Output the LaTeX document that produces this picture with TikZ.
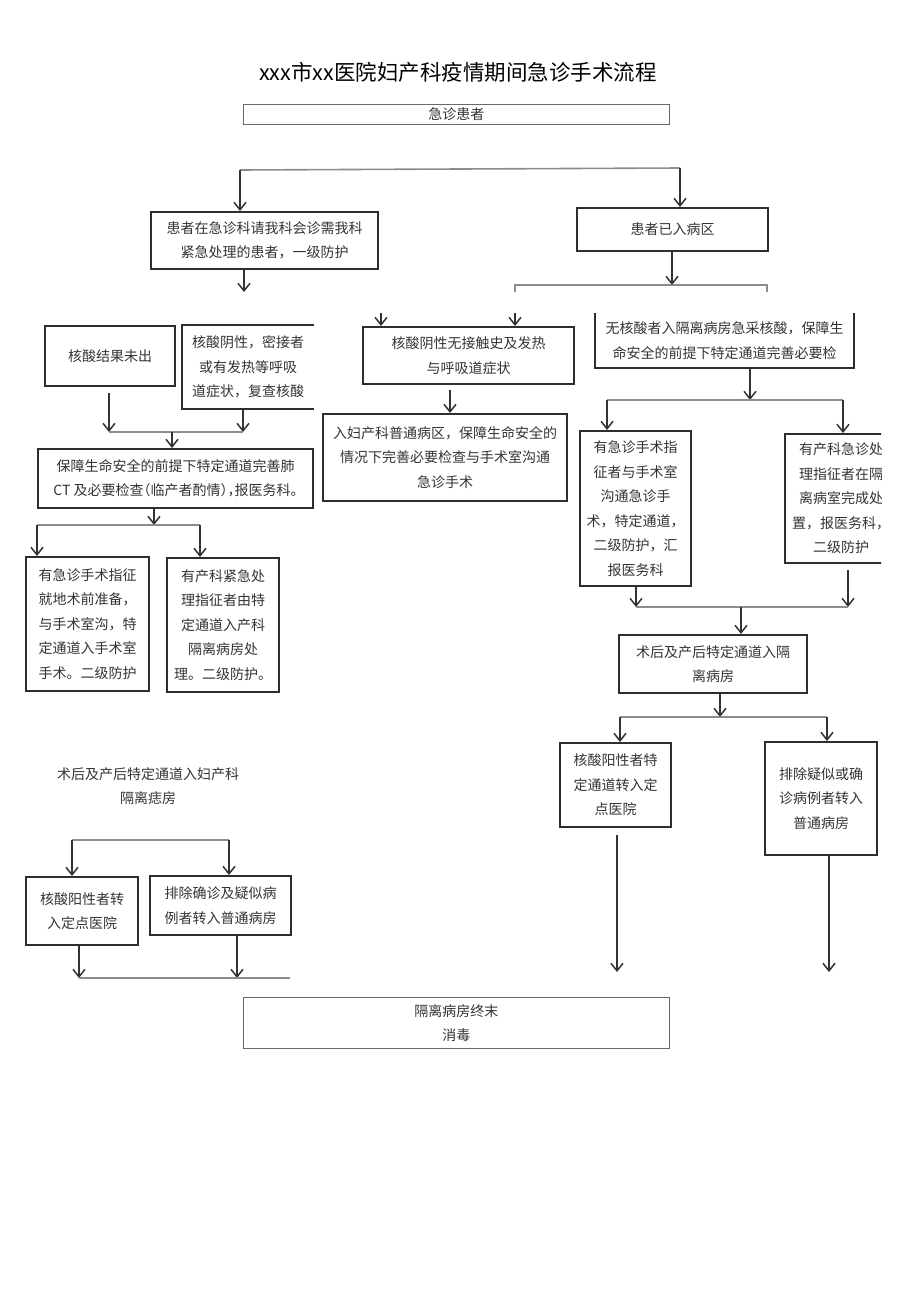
\documentclass[tikz,border=0pt]{standalone}
\usepackage{fontspec}
\setmainfont{Noto Sans CJK SC}
\usetikzlibrary{arrows.meta}
\definecolor{boxc}{HTML}{2E2E2E}
\definecolor{linec}{HTML}{333333}
\definecolor{hlc}{HTML}{8C8C8C}
\definecolor{txtc}{HTML}{333333}
\definecolor{thinc}{HTML}{6A6A6A}
\begin{document}
\begin{tikzpicture}[x=1pt,y=-1pt,
  font=\fontsize{14}{24.5}\selectfont,
  box/.style={draw=boxc, line width=2pt, inner sep=0pt, align=center, text=txtc, anchor=north west},
  thinbox/.style={box, draw=thinc, line width=0.9pt},
  boxline/.style={draw=boxc, line width=2pt},
  arr/.style={draw=linec, line width=1.5pt, -{Straight Barb[length=7.5pt,width=12pt]}},
  hline/.style={draw=hlc, line width=1.6pt}]
\useasboundingbox (0,0) rectangle (920,1301);

% title
\node[font=\fontsize{21.5}{26}\selectfont, text=black] (title) at (458,72) {xxx市xx医院妇产科疫情期间急诊手术流程};

% top
\node[thinbox, minimum width=426pt, minimum height=20pt] (A) at (243,104) {急诊患者};

\node[box, minimum width=227pt, minimum height=57pt] (B) at (150,211) {患者在急诊科请我科会诊需我科\\紧急处理的患者，一级防护};
\node[box, minimum width=191pt, minimum height=43pt] (C) at (576,207) {患者已入病区};

\coordinate (t1) at (240,170);
\coordinate (t2) at (680,168);
\draw[hline] (t1) -- (t2);
\draw[arr] (t1) -- (t1 |- B.north);
\draw[arr] (t2) -- (t2 |- C.north);

\coordinate (b1) at (244,292);
\draw[arr] (b1 |- B.south) -- (b1);

\coordinate (c1) at (672,285);
\coordinate (cl) at (515,285);
\coordinate (cr) at (767,285);
\draw[arr] (c1 |- C.south) -- (c1);
\draw[hline] ([yshift=-7pt]cl) -- (cl) -- (cr) -- ([yshift=-7pt]cr);

% left column
\node[box, minimum width=130pt, minimum height=60pt] (K) at (44,325) {核酸结果未出};
\node[box, draw=none, minimum width=130pt, minimum height=82pt] (L) at (182,325) {核酸阴性，密接者\\或有发热等呼吸\\道症状，复查核酸};
\draw[boxline] (L.north east) -- (L.north west) -- (L.south west) -- (L.south east);

\coordinate (k1s) at (109,393);
\coordinate (k1) at (109,432);
\coordinate (l1) at (243,432);
\coordinate (m0) at (172,432);
\draw[arr] (k1s) -- (k1);
\draw[arr] (l1 |- L.south) -- (l1);
\draw[hline] (k1) -- (l1);

\node[box, minimum width=275pt, minimum height=59pt] (M) at (37,448) {保障生命安全的前提下特定通道完善肺\\{\addfontfeatures{RawFeature=+halt}CT 及必要检查（临产者酌情），报医务科。}};
\draw[arr] (m0) -- (m0 |- M.north);

\coordinate (m1) at (154,525);
\coordinate (o0) at (37,525);
\coordinate (p0) at (200,525);
\draw[arr] (m1 |- M.south) -- (m1);
\draw[hline] (o0) -- (p0);

\node[box, minimum width=123pt, minimum height=134pt] (O) at (25,556) {有急诊手术指征\\就地术前准备，\\与手术室沟，特\\定通道入手术室\\手术。二级防护};
\node[box, minimum width=112pt, minimum height=134pt] (P) at (166,557) {有产科紧急处\\理指征者由特\\定通道入产科\\隔离病房处\\理。二级防护。};
\draw[arr] (o0) -- (o0 |- O.north);
\draw[arr] (p0) -- (p0 |- P.north);

\node[text=txtc, align=center, inner sep=0pt] (T) at (148,786) {术后及产后特定通道入妇产科\\隔离痣房};

\coordinate (q0) at (72,840);
\coordinate (r0) at (229,840);
\draw[hline] (q0) -- (r0);
\node[box, minimum width=112pt, minimum height=68pt] (Q) at (25,876) {核酸阳性者转\\入定点医院};
\node[box, minimum width=141pt, minimum height=59pt] (R) at (149,875) {排除确诊及疑似病\\例者转入普通病房};
\draw[arr] (q0) -- (q0 |- Q.north);
\draw[arr] (r0) -- (r0 |- R.north);

\coordinate (q1) at (79,978);
\coordinate (r1) at (237,978);
\coordinate (re) at (290,978);
\draw[arr] (q1 |- Q.south) -- (q1);
\draw[arr] (r1 |- R.south) -- (r1);
\draw[hline] (q1) -- (re);

% middle column
\node[box, minimum width=211pt, minimum height=57pt] (D) at (362,326) {核酸阴性无接触史及发热\\与呼吸道症状};
\coordinate (d1) at (381,313);
\coordinate (d2) at (515,313);
\draw[arr] (d1) -- (d1 |- D.north);
\draw[arr] (d2) -- (d2 |- D.north);

\node[box, minimum width=244pt, minimum height=87pt] (N) at (322,413) {入妇产科普通病区，保障生命安全的\\情况下完善必要检查与手术室沟通\\急诊手术};
\coordinate (n0) at (450,390);
\draw[arr] (n0) -- (n0 |- N.north);

% right column
\node[box, draw=none, minimum width=257pt, minimum height=53pt] (E) at (595,313) {无核酸者入隔离病房急采核酸，保障生\\命安全的前提下特定通道完善必要检};
\draw[boxline] (E.north west) -- (E.south west) -- (E.south east) -- (E.north east);

\coordinate (e1) at (750,400);
\coordinate (f0) at (607,400);
\coordinate (g0) at (843,400);
\draw[arr] (e1 |- E.south) -- (e1);
\draw[hline] (f0) -- (g0);

\node[box, minimum width=111pt, minimum height=155pt] (F) at (579,430) {有急诊手术指\\征者与手术室\\沟通急诊手\\术，特定通道，\\二级防护，汇\\报医务科};
\begin{scope}
\clip (700,420) rectangle (881,580);
\node[box, minimum width=112pt, minimum height=129pt] (G) at (784,433) {有产科急诊处\\理指征者在隔\\离病室完成处\\置，报医务科，\\二级防护};
\end{scope}
\draw[arr] (f0) -- (f0 |- F.north);
\draw[arr] (g0) -- (g0 |- G.north);

\coordinate (f1) at (636,607);
\coordinate (g1s) at (848,570);
\coordinate (g1) at (848,607);
\coordinate (h0) at (741,607);
\draw[arr] (f1 |- F.south) -- (f1);
\draw[arr] (g1s) -- (g1);
\draw[hline] (f1) -- (g1);

\node[box, minimum width=188pt, minimum height=58pt] (H) at (618,634) {术后及产后特定通道入隔\\离病房};
\draw[arr] (h0) -- (h0 |- H.north);

\coordinate (h1) at (720,717);
\coordinate (i0) at (620,717);
\coordinate (j0) at (827,717);
\draw[arr] (h1 |- H.south) -- (h1);
\draw[hline] (i0) -- (j0);

\node[box, minimum width=111pt, minimum height=84pt] (I) at (559,742) {核酸阳性者特\\定通道转入定\\点医院};
\node[box, minimum width=112pt, minimum height=113pt] (J) at (764,741) {排除疑似或确\\诊病例者转入\\普通病房};
\draw[arr] (i0) -- (i0 |- I.north);
\draw[arr] (j0) -- (j0 |- J.north);

\coordinate (i1s) at (617,835);
\coordinate (i1) at (617,972);
\coordinate (j1) at (829,972);
\draw[arr] (i1s) -- (i1);
\draw[arr] (j1 |- J.south) -- (j1);

% bottom
\node[thinbox, minimum width=426pt, minimum height=51pt] (S) at (243,997) {隔离病房终末\\消毒};

\end{tikzpicture}
\end{document}
